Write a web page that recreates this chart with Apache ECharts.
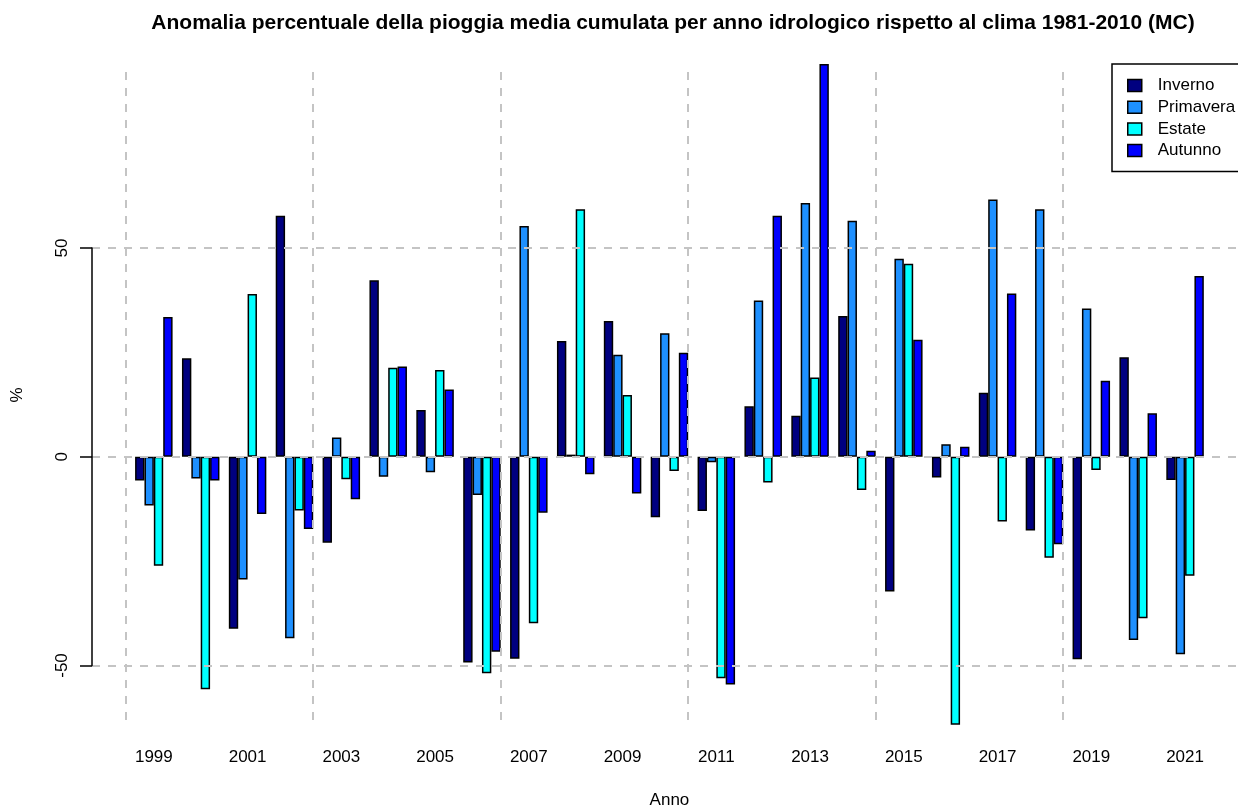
<!DOCTYPE html>
<html>
<head>
<meta charset="utf-8">
<script src="https://cdn.jsdelivr.net/npm/echarts@6/dist/echarts.min.js"></script>
<style>
  html, body { margin: 0; padding: 0; background: #ffffff; }
  #chart { width: 1238px; height: 807px; }
</style>
</head>
<body>
<div id="chart"></div>
<script>
// anni idrologici
const anni = ['1999', '2000', '2001', '2002', '2003', '2004', '2005', '2006', '2007', '2008', '2009', '2010',
  '2011', '2012', '2013', '2014', '2015', '2016', '2017', '2018', '2019', '2020', '2021'];

// anomalia % per stagione
const inverno   = [-5.7, 23.6, -41.2, 57.7, -20.6, 42.3, 11.2, -49.3, -48.4, 27.7, 32.5, -14.5,
  -13.0, 12.1, 9.8, 33.7, -32.3, -5.0, 15.3, -17.7, -48.5, 23.8, -5.6];
const primavera = [-11.7, -5.2, -29.4, -43.5, 4.6, -4.8, -3.7, -9.2, 55.3, 0.5, 24.4, 29.6,
  -1.3, 37.4, 60.8, 56.5, 47.4, 3.0, 61.6, 59.3, 35.5, -43.9, -47.3];
const estate    = [-26.1, -55.7, 39.0, -12.9, -5.4, 21.3, 20.8, -51.9, -39.9, 59.3, 14.8, -3.4,
  -53.1, -6.2, 19.0, -8.0, 46.2, -64.2, -15.5, -24.2, -3.2, -38.7, -28.5];
const autunno   = [33.5, -5.7, -13.7, -17.3, -10.2, 21.6, 16.1, -46.7, -13.4, -4.2, -8.8, 24.9,
  -54.6, 57.7, 94.1, 1.4, 28.0, 2.4, 39.1, -21.0, 18.2, 10.4, 43.3];

const stagioni = ['Inverno', 'Primavera', 'Estate', 'Autunno'];
const valori = [inverno, primavera, estate, autunno];
const colori = ['#000080', '#1E90FF', '#00FFFF', '#0000FF'];

const tickY = [-50, 0, 50];

const FONT = '"Liberation Sans", Arial, Helvetica, sans-serif';
const griglia = { color: '#c4c4c4', width: 2, type: [8, 8] };

const chart = echarts.init(document.getElementById('chart'));

const option = {
  animation: false,
  backgroundColor: '#ffffff',
  textStyle: { fontFamily: FONT },
  title: {
    text: 'Anomalia percentuale della pioggia media cumulata per anno idrologico rispetto al clima 1981-2010 (MC)',
    left: 668,
    top: 8,
    textAlign: 'center',
    textStyle: { fontFamily: FONT, fontSize: 21, fontWeight: 'bold', color: '#000' }
  },
  legend: {
    data: stagioni,
    orient: 'vertical',
    left: 1112,
    top: 64,
    icon: 'rect',
    itemWidth: 14,
    itemHeight: 12,
    itemGap: 4.7,
    padding: [13, 15, 12.5, 15],
    borderColor: '#000',
    borderWidth: 1.5,
    selectedMode: false,
    itemStyle: { borderColor: '#000', borderWidth: 1.5 },
    textStyle: { fontFamily: FONT, fontSize: 17, lineHeight: 17, color: '#000', padding: [0, 0, 0, 11] }
  },
  grid: [
    // asse y e linee orizzontali
    { left: 92, top: 248.1, width: 1160, height: 417.4, outerBoundsMode: 'none' },
    // barre
    { left: 130.4, top: 39.3, width: 1078.1, height: 709.6, outerBoundsMode: 'none' },
    // linee verticali
    { left: 125.7, top: 72, width: 1120, height: 650, outerBoundsMode: 'none' }
  ],
  xAxis: [
    { gridIndex: 0, type: 'value', min: 0, max: 1, show: false },
    {
      gridIndex: 1, type: 'category', data: anni,
      axisLine: { show: false }, axisTick: { show: false }, splitLine: { show: false },
      axisLabel: { interval: 1, fontFamily: FONT, fontSize: 17, color: '#000', margin: 0 },
      name: 'Anno', nameLocation: 'middle', nameGap: 43,
      nameTextStyle: { fontFamily: FONT, fontSize: 17, color: '#000' }
    },
    {
      gridIndex: 2, type: 'value', min: 0, max: 119.5, interval: 20, z: 10,
      axisLine: { show: false }, axisTick: { show: false }, axisLabel: { show: false },
      splitLine: { show: true, lineStyle: griglia }
    }
  ],
  yAxis: [
    {
      gridIndex: 0, type: 'value', min: tickY[0], max: tickY[2], interval: 50, z: 10,
      axisLine: { show: true, lineStyle: { color: '#000', width: 1.5 } },
      axisTick: { show: true, length: 12, lineStyle: { color: '#000', width: 1.5 } },
      axisLabel: { rotate: 90, margin: 21, fontFamily: FONT, fontSize: 17, color: '#000' },
      splitLine: { show: true, lineStyle: griglia }
    },
    { gridIndex: 1, type: 'value', min: -70, max: 100, show: false },
    { gridIndex: 2, type: 'value', min: 0, max: 1, show: false }
  ],
  graphic: [{
    type: 'text', x: 17, y: 395, rotation: Math.PI / 2,
    style: { text: '%', font: '17px ' + FONT, fill: '#000', align: 'center', verticalAlign: 'middle' }
  }],
  series: stagioni.map((nome, i) => ({
    name: nome,
    type: 'bar',
    xAxisIndex: 1,
    yAxisIndex: 1,
    data: valori[i],
    barGap: '0%',
    barCategoryGap: '20%',
    itemStyle: { color: colori[i], borderColor: '#000', borderWidth: 1.5 }
  }))
};

chart.setOption(option);
</script>
</body>
</html>
